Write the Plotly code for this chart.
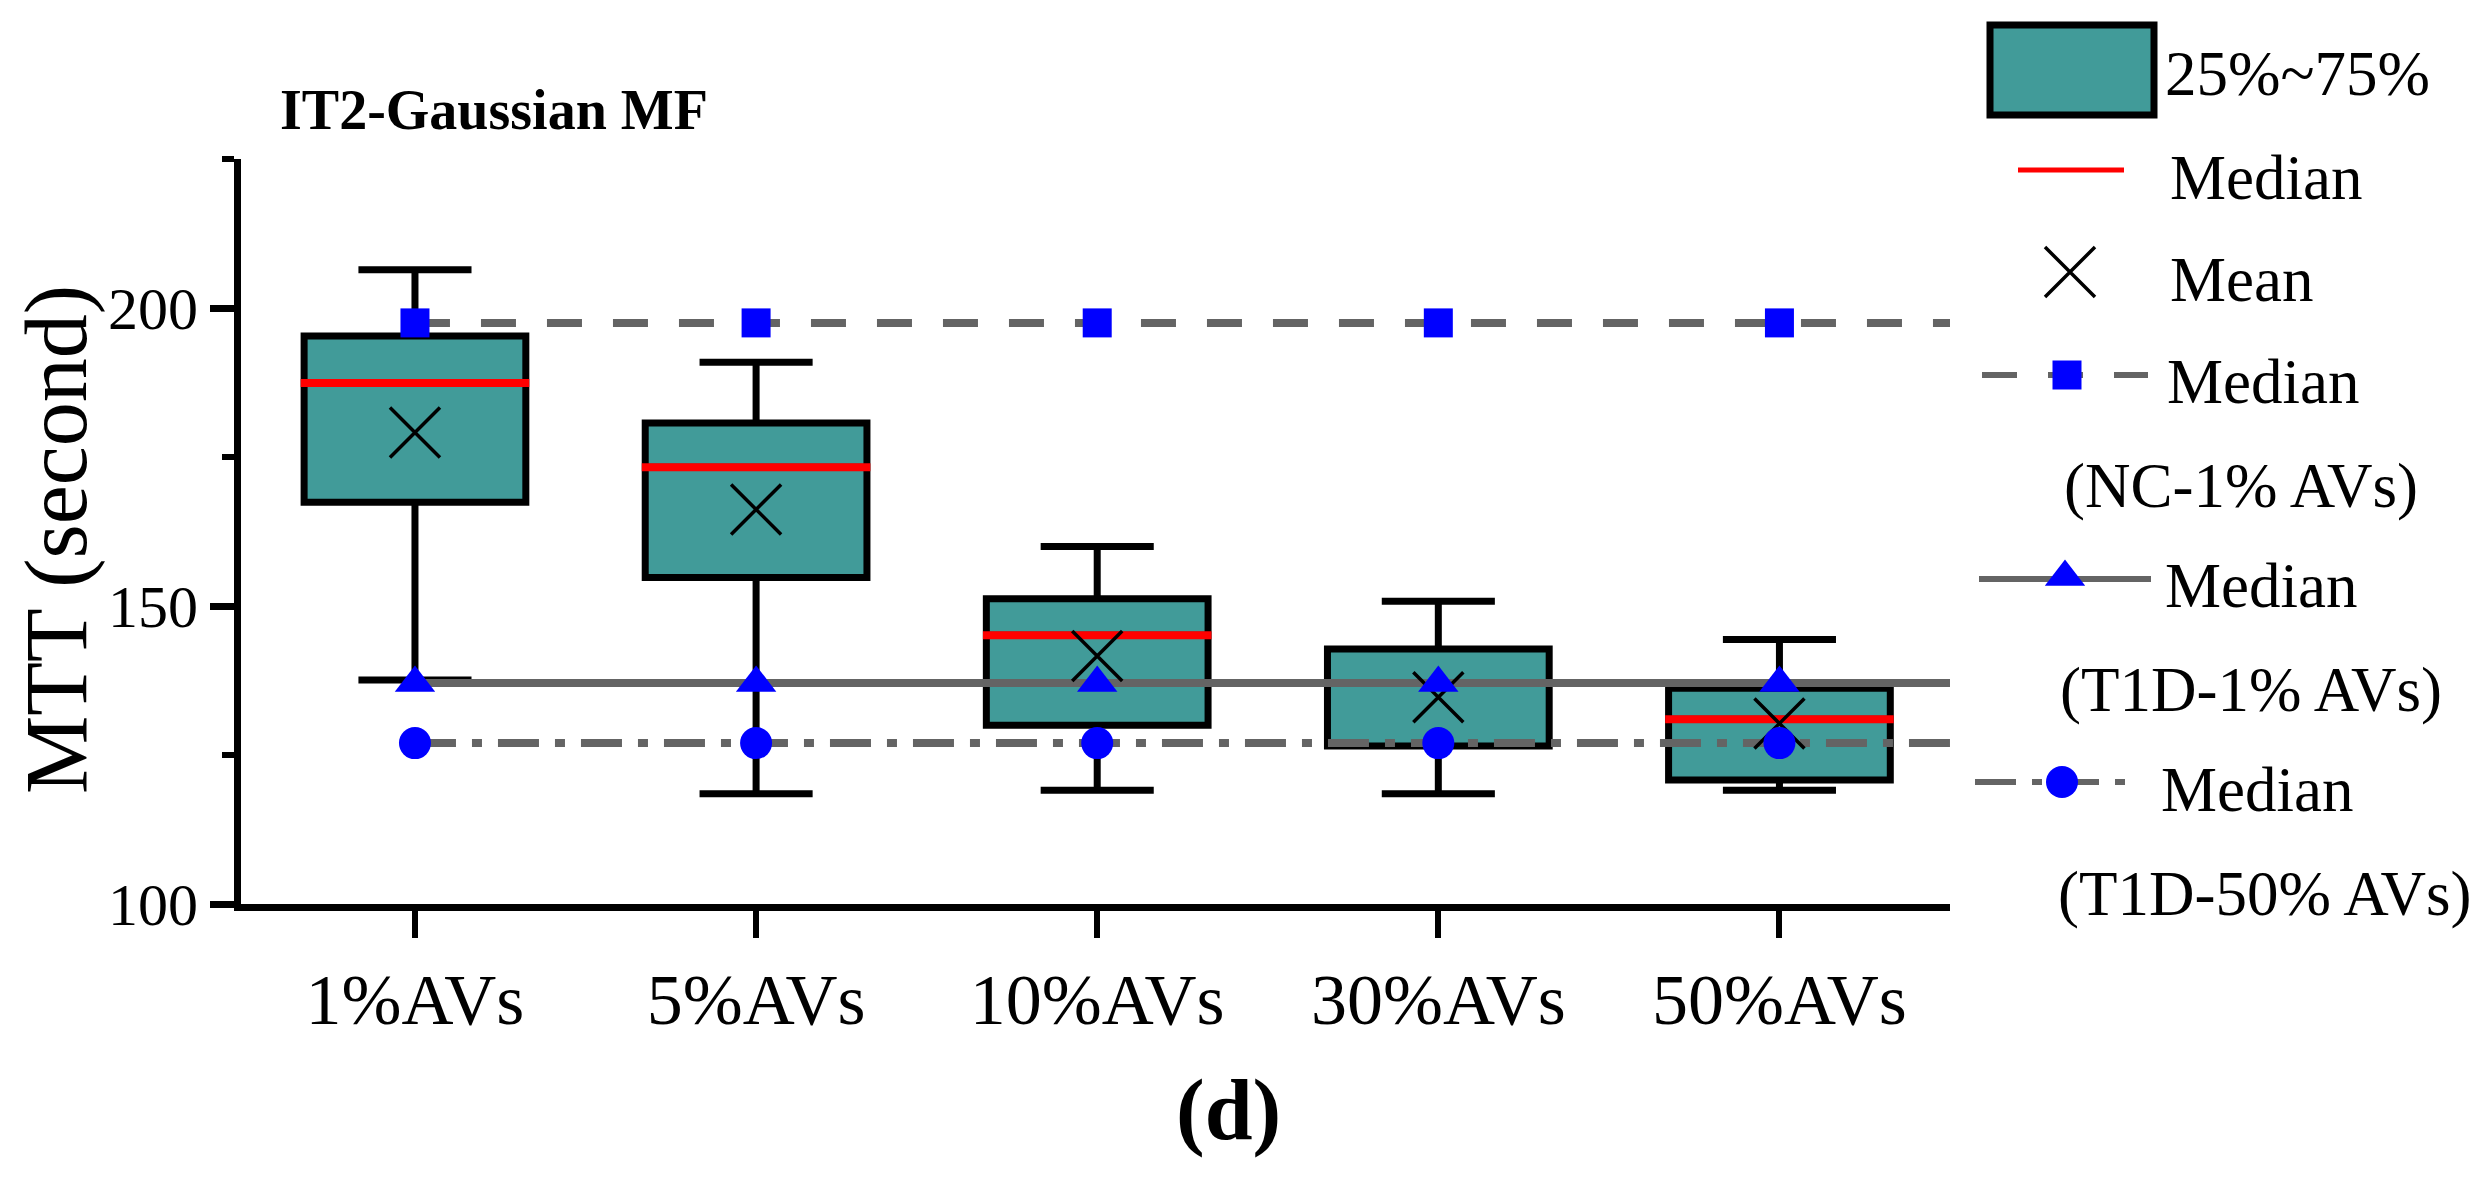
import plotly.graph_objects as go

# ---------------- data ----------------
categories = ["1%AVs", "5%AVs", "10%AVs", "30%AVs", "50%AVs"]
q1 = [167.4, 154.8, 130.0, 126.5, 120.8]
median = [187.4, 173.3, 145.1, 137.1, 131.0]
q3 = [195.3, 180.7, 151.2, 142.8, 136.2]
lower_whisker = [137.6, 118.5, 119.1, 118.5, 119.1]
upper_whisker = [206.4, 190.9, 160.0, 150.8, 144.4]
mean = [179.1, 166.2, 141.6, 134.7, 130.3]
nc_1pct_median = [197.5, 197.5, 197.5, 197.5, 197.5]
t1d_1pct_median = [137.1, 137.1, 137.1, 137.1, 137.1]
t1d_50pct_median = [127.0, 127.0, 127.0, 127.0, 127.0]
y_tick_values = [100, 150, 200]
y_minor_ticks = [125, 175, 225]
y_range = [100, 225]

# ---------------- styling ----------------
SW, SH = 2490, 1187          # screen size
OFF = 8                      # default page body margin
FW, FH = SW - 2 * OFF, SH - 2 * OFF
PL, PR, PT, PB = 241, 1950, 159, 904   # plot area in screen pixels
TEAL = "#419B99"
GRAY = "#646464"
BLUE = "#0000FF"
FONT = "Times New Roman, Liberation Serif, serif"
X_RANGE = [-0.51, 4.5]

xpos = list(range(len(categories)))

fig = go.Figure()

# boxes
fig.add_trace(go.Box(
    x=xpos, q1=q1, median=median, q3=q3,
    lowerfence=lower_whisker, upperfence=upper_whisker,
    fillcolor=TEAL, line=dict(color="black", width=7),
    width=0.65, whiskerwidth=0.51, boxpoints=False,
    showlegend=False, hoverinfo="skip"))

# red median lines (degenerate boxes at the median)
fig.add_trace(go.Box(
    x=xpos, q1=median, median=median, q3=median,
    lowerfence=median, upperfence=median,
    fillcolor="rgba(0,0,0,0)", line=dict(color="#FF0000", width=8),
    width=0.67, whiskerwidth=0, boxpoints=False,
    showlegend=False, hoverinfo="skip"))

# reference median lines, extended to the right edge of the plot
line_specs = [
    (nc_1pct_median, "35px,31px"),
    (t1d_1pct_median, "solid"),
    (t1d_50pct_median, "41px,16px,10px,16px"),
]
for vals, dash in line_specs:
    fig.add_trace(go.Scatter(
        x=xpos + [X_RANGE[1]], y=vals + [vals[-1]], mode="lines",
        line=dict(color=GRAY, width=8, dash=dash),
        showlegend=False, hoverinfo="skip"))

# mean markers
fig.add_trace(go.Scatter(
    x=xpos, y=mean, mode="markers",
    marker=dict(symbol="x-thin", size=50, color="black",
                line=dict(width=3.5, color="black")),
    showlegend=False, hoverinfo="skip"))

# blue median markers
marker_specs = [
    (nc_1pct_median, "square", 29),
    (t1d_1pct_median, "triangle-up", 35),
    (t1d_50pct_median, "circle", 32),
]
for vals, sym, size in marker_specs:
    fig.add_trace(go.Scatter(
        x=xpos, y=vals, mode="markers",
        marker=dict(symbol=sym, size=size, color=BLUE, line=dict(width=0)),
        showlegend=False, hoverinfo="skip"))

# ---------------- custom legend (overlay axes in screen pixels) ----------------
LG = dict(xaxis="x2", yaxis="y2", showlegend=False, hoverinfo="skip")
fig.add_trace(go.Scatter(x=[2018, 2124], y=[170, 170], mode="lines",
                         line=dict(color="#FF0000", width=5), **LG))
fig.add_trace(go.Scatter(x=[2070], y=[272], mode="markers",
                         marker=dict(symbol="x-thin", size=50, color="black",
                                     line=dict(width=3.5, color="black")), **LG))
fig.add_trace(go.Scatter(x=[1982, 2148], y=[375, 375], mode="lines",
                         line=dict(color=GRAY, width=6, dash="35px,31px"), **LG))
fig.add_trace(go.Scatter(x=[2067], y=[375], mode="markers",
                         marker=dict(symbol="square", size=29, color=BLUE), **LG))
fig.add_trace(go.Scatter(x=[1979, 2151], y=[579, 579], mode="lines",
                         line=dict(color=GRAY, width=6), **LG))
fig.add_trace(go.Scatter(x=[2065], y=[577], mode="markers",
                         marker=dict(symbol="triangle-up", size=35, color=BLUE), **LG))
fig.add_trace(go.Scatter(x=[1975, 2126], y=[782, 782], mode="lines",
                         line=dict(color=GRAY, width=6, dash="41px,16px,10px,16px"), **LG))
fig.add_trace(go.Scatter(x=[2062], y=[782], mode="markers",
                         marker=dict(symbol="circle", size=32, color=BLUE), **LG))

shapes = [dict(type="rect", xref="x2", yref="y2", x0=1990, x1=2154, y0=25, y1=115,
               fillcolor=TEAL, line=dict(color="black", width=7), layer="above")]

leg_font = dict(family=FONT, size=63, color="black")
legend_texts = [
    ("25%~75%", 2163, 74),
    ("Median", 2168, 178),
    ("Mean", 2168, 280),
    ("Median", 2165, 382),
    ("(NC-1% AVs)", 2062, 486),
    ("Median", 2163, 586),
    ("(T1D-1% AVs)", 2058, 690),
    ("Median", 2159, 790),
    ("(T1D-50% AVs)", 2056, 894),
]
annotations = []
for txt, x, y in legend_texts:
    annotations.append(dict(text=txt, x=x, y=y, xref="x2", yref="y2",
                            xanchor="left", yanchor="middle", showarrow=False,
                            font=leg_font))

# title, axis title, panel label (screen pixels)
annotations.append(dict(text="<b>IT2-Gaussian MF</b>", x=494, y=110,
                        xref="x2", yref="y2", xanchor="center", yanchor="middle",
                        showarrow=False, font=dict(family=FONT, size=56, color="black")))
annotations.append(dict(text="MTT (second)", x=56, y=540,
                        xref="x2", yref="y2", xanchor="center", yanchor="middle",
                        textangle=-90, showarrow=False,
                        font=dict(family=FONT, size=88, color="black")))
annotations.append(dict(text="<b>(d)</b>", x=1228, y=1110,
                        xref="x2", yref="y2", xanchor="center", yanchor="middle",
                        showarrow=False, font=dict(family=FONT, size=86, color="black")))

fig.update_layout(
    width=FW, height=FH,
    margin=dict(l=0, r=0, t=0, b=0, pad=0),
    paper_bgcolor="white", plot_bgcolor="rgba(0,0,0,0)",
    showlegend=False, boxmode="overlay",
    xaxis=dict(domain=[(PL - OFF) / FW, (PR - OFF) / FW], range=X_RANGE,
               tickmode="array", tickvals=xpos, ticktext=categories,
               showline=True, linewidth=7, linecolor="black",
               ticks="outside", ticklen=27, tickwidth=6, tickcolor="black",
               showgrid=False, zeroline=False, automargin=False,
               tickfont=dict(family=FONT, size=72, color="black")),
    yaxis=dict(domain=[1 - (PB - OFF) / FH, 1 - (PT - OFF) / FH], range=y_range,
               tickmode="array", tickvals=y_tick_values,
               showline=True, linewidth=7, linecolor="black",
               ticks="outside", ticklen=24, tickwidth=7, tickcolor="black",
               minor=dict(tickmode="array", tickvals=y_minor_ticks, ticks="outside",
                          ticklen=12, tickwidth=6, tickcolor="black"),
               showgrid=False, zeroline=False, automargin=False,
               tickfont=dict(family=FONT, size=60, color="black")),
    xaxis2=dict(domain=[0, 1], range=[OFF, OFF + FW], visible=False,
                anchor="y2", fixedrange=True),
    yaxis2=dict(domain=[0, 1], range=[OFF + FH, OFF], visible=False,
                anchor="x2", fixedrange=True),
    shapes=shapes,
    annotations=annotations,
)

fig.write_html("out.html")
